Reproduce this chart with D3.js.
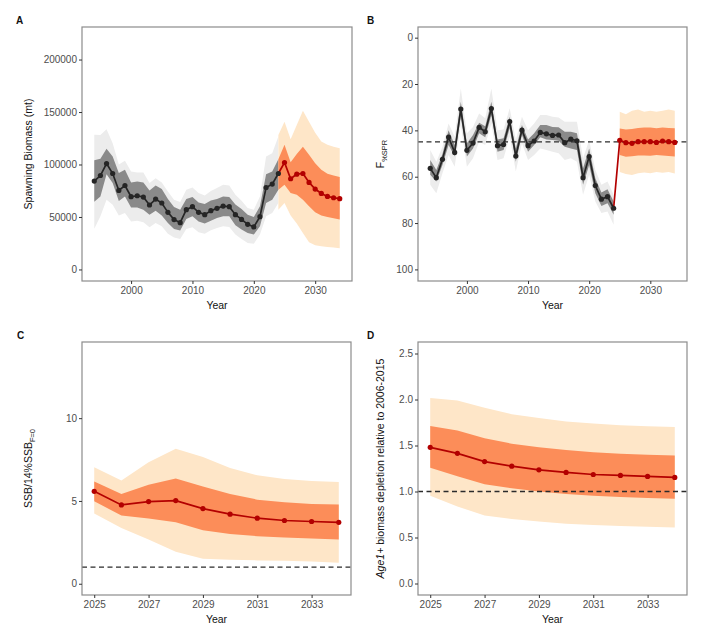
<!DOCTYPE html>
<html>
<head>
<meta charset="utf-8">
<script src="https://cdn.jsdelivr.net/npm/d3@7"></script>
<style>
  body { margin: 0; background: #fff; }
  text { font-family: "Liberation Sans", Arial, sans-serif; }
</style>
</head>
<body>
<div id="chart"></div>
<script>
// ---- data ----
var histYears = d3.range(1994, 2025);
var projYears = d3.range(2024, 2035);   // 2024 joins the projection to the last estimate
var projYearsB = d3.range(2025, 2035);

// A: spawning biomass (mt)
var ssb = [84200, 89500, 100900, 91400, 75300, 80000, 69300, 70200, 69000, 61400,
  67100, 63300, 54400, 47500, 44600, 57000, 59800, 54400, 52200, 56000,
  58200, 60400, 59800, 52200, 47700, 43000, 40500, 50300, 78100, 81300, 91400];
var ssbLo50 = [64500, 69600, 90800, 82300, 65200, 69600, 59100, 59100, 57000, 52200,
  56000, 51300, 44300, 38600, 37000, 48100, 50600, 45800, 43700, 46500,
  49000, 50600, 50600, 42100, 38000, 34800, 33200, 41100, 63300, 66400, 75900];
var ssbHi50 = [104100, 105400, 114900, 107600, 91800, 94900, 82900, 83800, 82900, 75300,
  80000, 76600, 67100, 59500, 57000, 67100, 69000, 63900, 62300, 65800,
  67100, 69600, 69000, 62000, 57600, 52200, 50000, 60100, 90800, 93300, 105100];
var ssbLo95 = [38900, 50600, 66400, 61700, 51300, 53800, 45800, 46500, 44900, 40200,
  44300, 41100, 33900, 30400, 29100, 38600, 40200, 35400, 33900, 37300,
  39600, 41100, 40500, 33200, 29100, 25300, 24400, 33200, 50600, 53800, 63300];
var ssbHi95 = [128400, 128100, 133500, 120300, 100000, 103500, 93300, 92300, 92400, 82300,
  87000, 82900, 74300, 66400, 64200, 75900, 78100, 72800, 70500, 74700,
  77500, 80700, 80000, 71200, 65500, 58600, 57000, 69600, 107600, 110800, 126600];

var ssbProj = [91400, 101900, 86400, 90800, 91400, 82900, 76600, 72400, 69600, 68300, 67400];
var ssbProjLo50 = [76000, 80700, 72800, 71200, 66400, 60100, 54400, 51300, 50000, 48700, 47500];
var ssbProjHi50 = [105000, 118700, 102200, 110100, 117000, 109200, 101300, 94900, 91100, 89500, 88000];
var ssbProjLo95 = [57000, 63300, 51300, 43700, 34800, 25900, 23100, 22100, 21500, 20900, 20300];
var ssbProjHi95 = [128000, 140800, 124100, 137600, 151200, 140800, 130300, 121800, 118700, 117000, 115500];

// B: F%SPR
var fspr = [56.4, 60.4, 52.5, 42.9, 49.5, 30.8, 48.6, 45.5, 38.7, 40.6,
  30.6, 46.6, 46.1, 36.2, 51.1, 39.9, 46.6, 44.6, 40.9, 41.5,
  42.2, 42.0, 45.3, 43.8, 44.5, 60.4, 51.3, 63.8, 69.7, 68.6, 73.6];
var fsprLo50 = [52.8, 57.1, 50.2, 39.9, 46.3, 27.7, 45.6, 42.0, 36.7, 38.2,
  27.7, 43.9, 43.4, 34.1, 47.8, 37.7, 43.9, 41.3, 37.7, 37.7,
  38.5, 38.7, 40.6, 40.6, 41.3, 56.4, 47.8, 60.7, 66.8, 65.4, 70.7];
var fsprHi50 = [59.2, 62.1, 54.9, 46.3, 51.3, 34.1, 51.3, 47.8, 41.3, 43.0,
  33.4, 49.2, 48.5, 39.1, 53.5, 42.0, 49.2, 46.3, 43.0, 43.9,
  44.2, 44.5, 47.1, 47.8, 48.5, 63.5, 54.9, 67.1, 72.6, 71.4, 76.4];
var fsprLo95 = [48.5, 53.5, 47.1, 37.0, 42.8, 21.9, 41.3, 38.5, 32.7, 34.8,
  21.9, 39.9, 39.6, 30.5, 44.2, 34.1, 39.9, 37.0, 33.4, 33.4,
  34.1, 34.4, 36.3, 36.3, 36.3, 52.0, 44.2, 57.1, 63.5, 62.1, 67.8];
var fsprHi95 = [63.5, 67.1, 58.5, 50.6, 55.7, 37.7, 55.7, 52.0, 44.9, 46.3,
  37.0, 52.8, 52.0, 42.8, 57.8, 45.6, 52.8, 50.6, 47.8, 48.5,
  49.2, 49.9, 52.8, 52.0, 53.5, 67.8, 59.2, 70.7, 75.7, 75.0, 80.7];

var fsprProj = [44.3, 45.3, 45.6, 44.9, 44.9, 44.9, 45.2, 44.6, 44.9, 45.2];
var fsprProjLo50 = [39.2, 39.6, 39.4, 39.0, 38.8, 38.8, 39.1, 38.8, 39.0, 39.1];
var fsprProjHi50 = [50.6, 51.4, 51.2, 50.8, 50.9, 51.0, 50.6, 50.9, 51.1, 51.3];
var fsprProjLo95 = [32.0, 33.0, 31.5, 31.0, 32.0, 31.5, 32.0, 31.5, 31.0, 31.5];
var fsprProjHi95 = [58.0, 58.8, 59.3, 58.5, 58.2, 58.5, 58.0, 58.3, 58.0, 58.6];
var fsprTarget = 45;

// C: SSB / 14% SSB F=0
var ratio = [5.58, 4.76, 4.96, 5.02, 4.54, 4.20, 3.96, 3.82, 3.76, 3.71];
var ratioLo50 = [4.98, 4.12, 3.94, 3.71, 3.23, 3.01, 2.87, 2.79, 2.73, 2.67];
var ratioHi50 = [6.18, 5.42, 5.98, 6.35, 5.88, 5.42, 5.08, 4.92, 4.82, 4.78];
var ratioLo95 = [4.24, 3.37, 2.67, 1.93, 1.51, 1.45, 1.41, 1.39, 1.35, 1.27];
var ratioHi95 = [7.03, 6.24, 7.33, 8.15, 7.65, 6.99, 6.55, 6.33, 6.20, 6.14];
var ratioRef = 1;

// D: age1+ biomass depletion relative to 2006-2015
var depl = [1.48, 1.415, 1.325, 1.275, 1.236, 1.207, 1.185, 1.175, 1.164, 1.153];
var deplLo50 = [1.257, 1.167, 1.08, 1.035, 0.999, 0.973, 0.955, 0.941, 0.93, 0.92];
var deplHi50 = [1.713, 1.663, 1.58, 1.52, 1.48, 1.45, 1.426, 1.41, 1.40, 1.39];
var deplLo95 = [0.955, 0.837, 0.74, 0.70, 0.675, 0.65, 0.636, 0.625, 0.618, 0.61];
var deplHi95 = [2.015, 1.99, 1.91, 1.84, 1.80, 1.76, 1.74, 1.72, 1.71, 1.70];
var deplRef = 1;

// tick labels
var yearTicksLong = [2000, 2010, 2020, 2030];
var yearTicksShort = [2025, 2027, 2029, 2031, 2033];
var ticksA = [0, 50000, 100000, 150000, 200000];
var ticksB = [0, 20, 40, 60, 80, 100];
var ticksC = [0, 5, 10];
var ticksD = [0, 0.5, 1, 1.5, 2, 2.5];

// ---- styling ----
var colGrayLight = "#ececec", colGrayDark = "#8a8a8a";
var colOrangeLight = "#fee6c8", colOrangeDark = "#fc8d59";
var colRed = "#b30000", colBlack = "#252525";

var svg = d3.select("#chart").append("svg")
  .attr("width", 703)
  .attr("height", 644);

function zip(xs, ys) {
  return xs.map(function (x, i) { return { x: x, y: ys[i] }; });
}
function band(xs, lo, hi) {
  return xs.map(function (x, i) { return { x: x, lo: lo[i], hi: hi[i] }; });
}

function panel(opt) {
  var g = svg.append("g");
  var x = d3.scaleLinear().domain(opt.xDomain).range([opt.left, opt.right]);
  var y = d3.scaleLinear().domain(opt.yDomain).range(opt.yRange);

  var area = d3.area()
    .x(function (d) { return x(d.x); })
    .y0(function (d) { return y(d.lo); })
    .y1(function (d) { return y(d.hi); });
  var line = d3.line()
    .x(function (d) { return x(d.x); })
    .y(function (d) { return y(d.y); });

  (opt.bands || []).forEach(function (b) {
    g.append("path").datum(b.data).attr("d", area).attr("fill", b.fill);
  });

  if (opt.refLine !== undefined) {
    g.append("line")
      .attr("x1", opt.left).attr("x2", opt.right)
      .attr("y1", y(opt.refLine)).attr("y2", y(opt.refLine))
      .attr("stroke", "#2b2b2b").attr("stroke-width", 1.3)
      .attr("stroke-dasharray", "5,3.5");
  }

  (opt.lines || []).forEach(function (l) {
    g.append("path").datum(l.data).attr("d", line)
      .attr("fill", "none").attr("stroke", l.color).attr("stroke-width", 1.7);
    if (l.points) {
      g.selectAll(null).data(l.data.slice(l.skipFirst ? 1 : 0)).join("circle")
        .attr("cx", function (d) { return x(d.x); })
        .attr("cy", function (d) { return y(d.y); })
        .attr("r", 2.6)
        .attr("fill", l.color);
    }
  });

  // frame
  g.append("rect")
    .attr("x", opt.left).attr("y", opt.top)
    .attr("width", opt.right - opt.left).attr("height", opt.bottom - opt.top)
    .attr("fill", "none").attr("stroke", "#8c8c8c").attr("stroke-width", 1.2);

  var xAxis = g.append("g").attr("transform", "translate(0," + opt.bottom + ")")
    .call(d3.axisBottom(x).tickValues(opt.xTicks).tickSize(3).tickPadding(3)
      .tickFormat(d3.format("d")));
  var yAxis = g.append("g").attr("transform", "translate(" + opt.left + ",0)")
    .call(d3.axisLeft(y).tickValues(opt.yTicks).tickSize(3).tickPadding(2)
      .tickFormat(opt.yFormat));
  [xAxis, yAxis].forEach(function (a) {
    a.select(".domain").remove();
    a.selectAll(".tick line").attr("stroke", "#333").attr("stroke-width", 1);
    a.selectAll(".tick text").attr("fill", "#4d4d4d").attr("font-size", 10)
      .attr("font-family", "Liberation Sans, Arial, sans-serif");
  });

  g.append("text")
    .attr("x", (opt.left + opt.right) / 2).attr("y", opt.bottom + 28)
    .attr("text-anchor", "middle").attr("font-size", 10.5).attr("fill", "#111")
    .text("Year");

  var yt = g.append("text")
    .attr("transform", "translate(" + opt.yTitleX + "," + ((opt.top + opt.bottom) / 2) + ") rotate(-90)")
    .attr("text-anchor", "middle").attr("font-size", 10.5).attr("fill", "#111");
  opt.yTitle(yt);

  g.append("text")
    .attr("x", opt.tagX).attr("y", opt.top - 3)
    .attr("font-size", 10).attr("font-weight", "bold").attr("fill", "#111")
    .text(opt.tag);
}

// A
panel({
  tag: "A", tagX: 16,
  left: 82, right: 352, top: 27, bottom: 281,
  xDomain: [1992, 2036], yDomain: [-11000, 231000], yRange: [281, 27],
  xTicks: yearTicksLong, yTicks: ticksA, yFormat: d3.format("d"),
  yTitleX: 32,
  yTitle: function (t) { t.text("Spawning Biomass (mt)"); },
  bands: [
    { data: band(histYears, ssbLo95, ssbHi95), fill: colGrayLight },
    { data: band(projYears, ssbProjLo95, ssbProjHi95), fill: colOrangeLight },
    { data: band(histYears, ssbLo50, ssbHi50), fill: colGrayDark },
    { data: band(projYears, ssbProjLo50, ssbProjHi50), fill: colOrangeDark }
  ],
  lines: [
    { data: zip(projYears, ssbProj), color: colRed, points: true, skipFirst: true },
    { data: zip(histYears, ssb), color: colBlack, points: true }
  ]
});

// B
panel({
  tag: "B", tagX: 367,
  left: 418, right: 687, top: 27, bottom: 281,
  xDomain: [1992, 2036], yDomain: [-4.6, 105], yRange: [27, 281],
  xTicks: yearTicksLong, yTicks: ticksB, yFormat: d3.format("d"),
  yTitleX: 384,
  yTitle: function (t) {
    t.append("tspan").text("F");
    t.append("tspan").attr("font-size", 7.5).attr("dy", 3).text("%SPR");
  },
  refLine: fsprTarget,
  bands: [
    { data: band(histYears, fsprLo95, fsprHi95), fill: colGrayLight },
    { data: band(projYearsB, fsprProjLo95, fsprProjHi95), fill: colOrangeLight },
    { data: band(histYears, fsprLo50, fsprHi50), fill: colGrayDark },
    { data: band(projYearsB, fsprProjLo50, fsprProjHi50), fill: colOrangeDark }
  ],
  lines: [
    { data: zip(projYears, [fspr[fspr.length - 1]].concat(fsprProj)), color: colRed, points: true, skipFirst: true },
    { data: zip(histYears, fspr), color: colBlack, points: true }
  ]
});

// C
panel({
  tag: "C", tagX: 17,
  left: 82, right: 351, top: 342, bottom: 595,
  xDomain: [2024.55, 2034.45], yDomain: [-0.68, 14.6], yRange: [595, 342],
  xTicks: yearTicksShort, yTicks: ticksC, yFormat: d3.format("d"),
  yTitleX: 32,
  yTitle: function (t) {
    t.append("tspan").text("SSB/14%SSB");
    t.append("tspan").attr("font-size", 7.5).attr("dy", 3).text("F=0");
  },
  refLine: ratioRef,
  bands: [
    { data: band(projYearsB, ratioLo95, ratioHi95), fill: colOrangeLight },
    { data: band(projYearsB, ratioLo50, ratioHi50), fill: colOrangeDark }
  ],
  lines: [
    { data: zip(projYearsB, ratio), color: colRed, points: true }
  ]
});

// D
panel({
  tag: "D", tagX: 367,
  left: 418, right: 687, top: 342, bottom: 595,
  xDomain: [2024.55, 2034.45], yDomain: [-0.125, 2.625], yRange: [595, 342],
  xTicks: yearTicksShort, yTicks: ticksD, yFormat: d3.format(".1f"),
  yTitleX: 384,
  yTitle: function (t) {
    t.append("tspan").attr("font-style", "italic").text("Age1+");
    t.append("tspan").text(" biomass depletion relative to 2006-2015");
  },
  refLine: deplRef,
  bands: [
    { data: band(projYearsB, deplLo95, deplHi95), fill: colOrangeLight },
    { data: band(projYearsB, deplLo50, deplHi50), fill: colOrangeDark }
  ],
  lines: [
    { data: zip(projYearsB, depl), color: colRed, points: true }
  ]
});
</script>
</body>
</html>
